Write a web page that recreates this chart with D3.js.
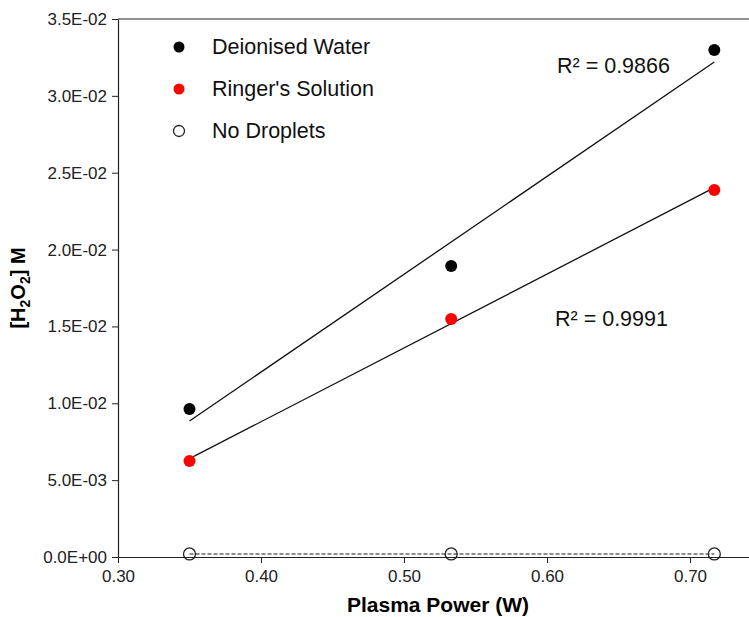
<!DOCTYPE html>
<html>
<head>
<meta charset="utf-8">
<script src="https://cdn.jsdelivr.net/npm/d3@7"></script>
<style>
  body { margin: 0; background: #fff; }
  text { font-family: "Liberation Sans", Arial, sans-serif; }
</style>
</head>
<body>
<div id="plot"></div>
<script>
// data
var power = [0.35, 0.533, 0.717];
var deionised = [0.00963, 0.01893, 0.03298];
var ringers = [0.00625, 0.01548, 0.02388];
var noDroplets = [0.0002, 0.0002, 0.0002];
var seriesNames = ["Deionised Water", "Ringer's Solution", "No Droplets"];
var r2Labels = ["R\u00B2 = 0.9866", "R\u00B2 = 0.9991"];
var xTicks = [0.30, 0.40, 0.50, 0.60, 0.70];
var yTicks = [0, 0.005, 0.01, 0.015, 0.02, 0.025, 0.03, 0.035];
var yTickLabels = ["0.0E+00", "5.0E-03", "1.0E-02", "1.5E-02", "2.0E-02", "2.5E-02", "3.0E-02", "3.5E-02"];

var W = 749, H = 617;
var margin = {top: 19, left: 118, bottom: 60};

var svg = d3.select("#plot")
  .append("svg")
    .attr("width", W)
    .attr("height", H);

var x = d3.scaleLinear()
  .domain([0.30, 0.75])
  .range([margin.left, margin.left + 0.45 * 1430]);
var y = d3.scaleLinear()
  .domain([0, 0.035])
  .range([H - margin.bottom, margin.top]);

// top frame line
svg.append("line")
  .attr("x1", margin.left).attr("x2", W)
  .attr("y1", y(0.035)).attr("y2", y(0.035))
  .attr("stroke", "#222").attr("stroke-width", 1.2);

// X axis
var xAxis = svg.append("g")
  .attr("transform", "translate(0," + y(0) + ")")
  .call(d3.axisBottom(x).tickValues(xTicks).tickFormat(d3.format(".2f")).tickSize(6).tickSizeOuter(0));
xAxis.select(".domain").attr("stroke", "#222").attr("stroke-width", 1.2);
xAxis.selectAll(".tick line").attr("stroke", "#222");
xAxis.selectAll(".tick text").style("font-size", "17px").attr("fill", "#222").attr("dy", "0.95em");

// Y axis
var yAxis = svg.append("g")
  .attr("transform", "translate(" + margin.left + ",0)")
  .call(d3.axisLeft(y).tickValues(yTicks).tickFormat(function(d, i) { return yTickLabels[i]; }).tickSize(6).tickSizeOuter(0));
yAxis.select(".domain").attr("stroke", "#222").attr("stroke-width", 1.2);
yAxis.selectAll(".tick line").attr("stroke", "#222");
yAxis.selectAll(".tick text").style("font-size", "17px").attr("fill", "#222").attr("x", -11);

// axis titles
svg.append("text")
  .attr("text-anchor", "middle")
  .attr("x", 438)
  .attr("y", 612)
  .style("font-size", "21px")
  .attr("font-weight", "bold")
  .text("Plasma Power (W)");

var yl = svg.append("text")
  .attr("text-anchor", "middle")
  .attr("transform", "translate(25,288) rotate(-90)")
  .style("font-size", "20px")
  .attr("font-weight", "bold");
yl.append("tspan").text("[H");
yl.append("tspan").text("2").style("font-size", "14px").attr("dy", 5);
yl.append("tspan").text("O").attr("dy", -5);
yl.append("tspan").text("2").style("font-size", "14px").attr("dy", 5);
yl.append("tspan").text("] M").attr("dy", -5);

// least-squares trend line over the data range
function fit(xs, ys) {
  var mx = d3.mean(xs), my = d3.mean(ys);
  var sxy = d3.sum(xs, function(v, i) { return (v - mx) * (ys[i] - my); });
  var sxx = d3.sum(xs, function(v) { return (v - mx) * (v - mx); });
  var b = sxy / sxx, a = my - b * mx;
  var x0 = d3.min(xs), x1 = d3.max(xs);
  return [[x0, a + b * x0], [x1, a + b * x1]];
}
var line = d3.line().x(function(d) { return x(d[0]); }).y(function(d) { return y(d[1]); });

svg.append("path").attr("d", line(fit(power, noDroplets)))
  .attr("fill", "none").attr("stroke", "#666").attr("stroke-width", 1.6).attr("stroke-dasharray", "4,2");
svg.append("path").attr("d", line(fit(power, deionised)))
  .attr("fill", "none").attr("stroke", "#111").attr("stroke-width", 1.3);
svg.append("path").attr("d", line(fit(power, ringers)))
  .attr("fill", "none").attr("stroke", "#111").attr("stroke-width", 1.3);

// points
function dots(vals, fill, stroke) {
  svg.append("g").selectAll("circle")
    .data(vals)
    .enter()
    .append("circle")
      .attr("cx", function(d, i) { return x(power[i]); })
      .attr("cy", function(d) { return y(d); })
      .attr("r", 6)
      .attr("fill", fill)
      .attr("stroke", stroke)
      .attr("stroke-width", stroke === "none" ? 0 : 1.3);
}
dots(noDroplets, "none", "#222");
dots(deionised, "#000", "none");
dots(ringers, "#f00", "none");

// R² labels
svg.append("text").attr("x", 557).attr("y", 73).style("font-size", "21.5px").attr("fill", "#111").text(r2Labels[0]);
svg.append("text").attr("x", 555).attr("y", 326).style("font-size", "21.5px").attr("fill", "#111").text(r2Labels[1]);

// legend
var legFill = ["#000", "#f00", "#fff"];
var legStroke = ["none", "none", "#222"];
var leg = svg.append("g");
seriesNames.forEach(function(name, i) {
  var ly = 47 + i * 42;
  leg.append("circle")
    .attr("cx", 179).attr("cy", ly).attr("r", 5.5)
    .attr("fill", legFill[i]).attr("stroke", legStroke[i]).attr("stroke-width", 1.3);
  leg.append("text")
    .attr("x", 212).attr("y", ly + 7)
    .style("font-size", "21.5px").attr("fill", "#111")
    .text(name);
});
</script>
</body>
</html>
